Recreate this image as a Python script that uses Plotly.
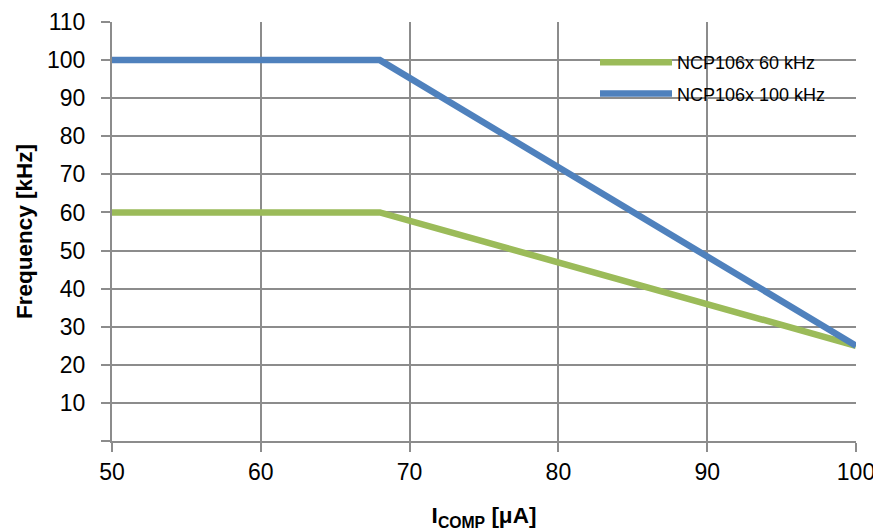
import plotly.graph_objects as go

x_current = [50, 68, 100]
f_60k = [60, 60, 25]
f_100k = [100, 100, 25]
names = ["NCP106x 60 kHz", "NCP106x 100 kHz"]
y_ticks = [0, 10, 20, 30, 40, 50, 60, 70, 80, 90, 100, 110]
y_ticktext = [""] + [str(v) for v in y_ticks[1:]]
x_ticks = [50, 60, 70, 80, 90, 100]

GRID = "#8c8c8c"
FONT = "Liberation Sans"

# page body adds an 8px offset; plot area in window: x 112..856, y 22..441
OFF = 8
W, H = 881 - OFF, 531 - OFF
L, T = 104, 14
PW, PH = 744, 419
LEFT_W, TOP_W = L + OFF, T + OFF


def px(xw):
    return (xw - LEFT_W) / PW


def py(yw):
    return 1 - (yw - TOP_W) / PH


fig = go.Figure()
fig.add_trace(go.Scatter(x=x_current, y=f_60k, mode="lines", name=names[0],
                         legendgroup="a", line=dict(color="#9BBB59", width=6.5)))
fig.add_trace(go.Scatter(x=x_current, y=f_100k, mode="lines", name=names[1],
                         legendgroup="b", line=dict(color="#4F81BD", width=6.5)))

# white backdrop behind the legend (covers gridlines, under traces)
fig.add_shape(type="rect", xref="paper", yref="paper", layer="between",
              x0=px(590), x1=px(838), y0=py(117), y1=py(35),
              fillcolor="white", line=dict(width=0))

fig.update_layout(
    width=W, height=H,
    margin=dict(l=L, r=W - L - PW, t=T, b=H - T - PH),
    paper_bgcolor="white", plot_bgcolor="white",
    font=dict(family=FONT, size=23, color="black"),
    showlegend=True,
    legend=dict(x=px(595), y=py(44), xanchor="left", yanchor="top",
                bgcolor="rgba(255,255,255,0)", borderwidth=0,
                font=dict(family=FONT, size=18, color="black"),
                itemwidth=72, tracegroupgap=5),
    xaxis=dict(range=[50, 100], tickvals=x_ticks, showgrid=True, gridcolor=GRID,
               gridwidth=2, zeroline=False, showline=True, linecolor=GRID, linewidth=2,
               ticks="outside", ticklen=9, tickcolor=GRID, tickwidth=2, ticklabelstandoff=0,
               automargin=False, ticklabeloverflow="allow",
               title=dict(text="<b>I<sub>COMP</sub> [μA]</b>", font=dict(family=FONT, size=22.5), standoff=24),
               tickfont=dict(family=FONT, size=23)),
    yaxis=dict(range=[0, 110], tickvals=y_ticks, ticktext=y_ticktext, showgrid=True,
               gridcolor=GRID, gridwidth=2, zeroline=False, showline=True,
               linecolor=GRID, linewidth=2, ticks="outside", ticklen=9, tickcolor=GRID,
               tickwidth=2, ticklabelstandoff=11, automargin=False, ticklabeloverflow="allow",
               title=dict(text="<b>Frequency [kHz]</b>", font=dict(family=FONT, size=22.5), standoff=8),
               tickfont=dict(family=FONT, size=23)),
)

fig.write_html("out.html")
